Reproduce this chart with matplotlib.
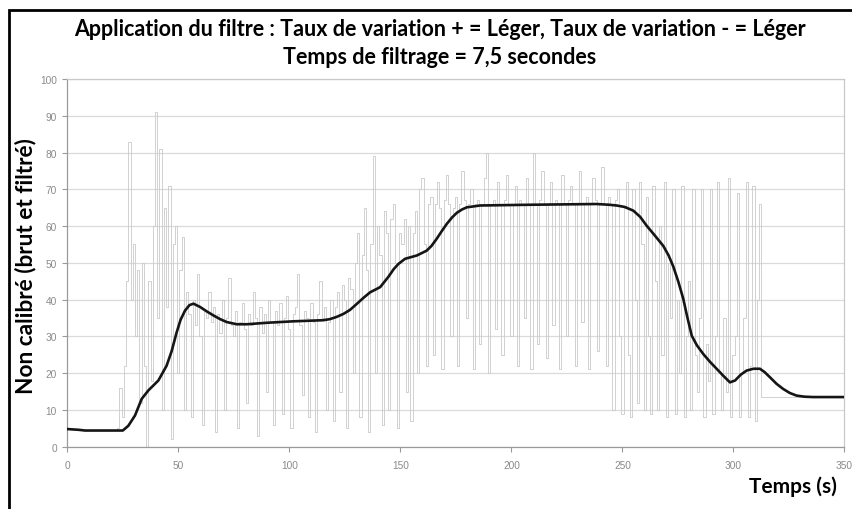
import numpy as np
import matplotlib
matplotlib.use("Agg")
import matplotlib.pyplot as plt
from matplotlib.patches import Rectangle

# ---------------- data ----------------
title_line1 = "Application du filtre : Taux de variation + = Léger, Taux de variation - = Léger"
title_line2 = "Temps de filtrage = 7,5 secondes"
y_label = "Non calibré (brut et filtré)"
x_label = "Temps (s)"

x_ticks = [0, 50, 100, 150, 200, 250, 300, 350]
y_ticks = [0, 10, 20, 30, 40, 50, 60, 70, 80, 90, 100]

# raw signal, one sample per second starting at t = 0
raw_0_24 = [4.8, 4.8, 4.8, 4.8, 4.8, 4.6, 4.5, 4.5, 4.5, 4.5,
            4.5, 4.5, 4.5, 4.5, 4.5, 4.5, 4.5, 4.5, 4.5, 4.5,
            4.5, 4.5, 4.5, 5.0, 16]
raw_25_54 = [8, 22, 45, 83, 40, 55, 30, 48, 12, 50,
             22, 0, 45, 18, 60, 91, 35, 81, 10, 65,
             38, 71, 2, 55, 60, 20, 48, 57, 10, 42]
raw_55_124 = [36, 8, 40, 33, 47, 30, 6, 37, 35, 42,
              34, 38, 4, 36, 31, 40, 10, 35, 46, 33,
              30, 37, 5, 34, 39, 32, 12, 36, 33, 42,
              35, 3, 38, 31, 36, 15, 40, 34, 6, 37,
              33, 39, 9, 35, 41, 32, 5, 36, 38, 47,
              33, 14, 37, 35, 8, 39, 34, 4, 36, 45,
              35, 38, 10, 34, 40, 7, 38, 42, 15, 44]
raw_125_164 = [40, 5, 46, 43, 20, 50, 58, 8, 52, 65,
               48, 4, 55, 79, 20, 60, 52, 6, 64, 58,
               10, 62, 66, 50, 5, 58, 55, 62, 15, 60,
               7, 58, 64, 20, 70, 73, 55, 22, 66, 68]
raw_165_244 = [25, 66, 72, 65, 21, 67, 74, 66, 30, 65,
               68, 22, 66, 75, 67, 35, 66, 70, 21, 66,
               67, 28, 66, 73, 80, 20, 66, 67, 32, 72,
               66, 25, 67, 74, 66, 30, 66, 71, 22, 67,
               66, 35, 73, 66, 21, 80, 66, 28, 67, 75,
               66, 24, 66, 72, 33, 67, 66, 21, 74, 66,
               30, 67, 71, 66, 22, 66, 75, 34, 66, 68,
               21, 66, 73, 67, 26, 66, 76, 66, 22, 68]
raw_245_312 = [66, 10, 67, 70, 30, 9, 65, 72, 25, 8,
               70, 40, 12, 72, 55, 10, 68, 30, 9, 71,
               45, 10, 60, 25, 72, 8, 50, 35, 70, 9,
               40, 20, 71, 8, 30, 45, 10, 70, 25, 15,
               35, 70, 8, 28, 18, 70, 9, 30, 72, 20,
               10, 35, 15, 73, 8, 25, 30, 69, 8, 20,
               35, 72, 8, 22, 71, 7, 40, 66]
raw_313_350 = [13.5, 13.5, 13.5, 13.5, 13.5, 13.5, 13.5, 13.5, 13.5, 13.5,
               13.5, 13.5, 13.5, 13.5, 13.5, 13.5, 13.5, 13.5, 13.5, 13.5,
               13.5, 13.5, 13.5, 13.5, 13.5, 13.5, 13.5, 13.5, 13.5, 13.5,
               13.5, 13.5, 13.5, 13.5, 13.5, 13.5, 13.5, 13.5]
raw_values = (raw_0_24 + raw_25_54 + raw_55_124 + raw_125_164
              + raw_165_244 + raw_245_312 + raw_313_350)
raw_time = np.arange(len(raw_values))

# filtered signal
filt_time = [0, 5, 8, 25, 27.5, 30.5, 33.5, 36.5, 41, 44.7, 47, 49.2, 51, 53, 55,
             56.8, 59.8, 62.8, 65.8, 68.8, 71.8, 76.3, 80.8, 89.8, 101.8, 115.3,
             118.3, 121.3, 124.3, 127.3, 130.3, 133.4, 136.4, 140.9, 144.6, 147,
             149.1, 152.1, 157.4, 161.8, 164, 166.3, 168.6, 170.9, 173.2, 175.4,
             177.7, 179.9, 185.9, 208.4, 238.4, 244, 247.4, 251, 254.9, 258,
             260.9, 264.5, 268.4, 270.8, 272.9, 275.2, 277.4, 279.3, 281.2, 283.5,
             286.4, 289.4, 292.4, 295.4, 298.4, 300.7, 303.3, 305.9, 309, 311.9,
             314, 316.4, 319.4, 322.4, 325.4, 328.4, 332, 335.9, 350]
filt_values = [4.8, 4.6, 4.4, 4.4, 5.7, 8.5, 13, 15.3, 18, 22, 26, 31, 34.5, 37, 38.5,
               38.9, 38, 36.8, 35.7, 34.7, 33.9, 33.3, 33.3, 33.7, 34.1, 34.4,
               34.7, 35.3, 36.1, 37.2, 38.8, 40.5, 42.0, 43.4, 46.2, 48.3,
               49.7, 51.1, 52.0, 53.3, 54.6, 56.5, 58.6, 60.6, 62.3, 63.6,
               64.5, 65.1, 65.6, 65.8, 66.0, 65.8, 65.6, 65.2, 64.2, 62.5,
               60.1, 57.5, 54.6, 52, 49.0, 44.8, 40.2, 35, 30.2, 27.6,
               25.2, 23.1, 21.2, 19.3, 17.5, 18.0, 19.6, 20.7, 21.2, 21.2,
               20.3, 18.9, 17.1, 15.7, 14.6, 13.9, 13.6, 13.5, 13.5]

# ---------------- figure ----------------
W, H = 853, 510
fig = plt.figure(figsize=(W / 100, H / 100), dpi=100)
fig.patch.set_facecolor("white")

ax_l, ax_r = 67.3, 844.5
ax_t, ax_b = 80.0, 447.7
ax = fig.add_axes([ax_l / W, 1 - ax_b / H, (ax_r - ax_l) / W, (ax_b - ax_t) / H])

ax.plot(raw_time, raw_values, color="#cacaca", lw=0.6, zorder=2,
        drawstyle="steps-mid")
ax.plot(filt_time, filt_values, color="#151515", lw=1.9, zorder=3,
        solid_joinstyle="round")

ax.set_xlim(0, 350)
ax.set_ylim(0, 100)
ax.set_xticks(x_ticks)
ax.set_yticks(y_ticks)
ax.grid(axis="y", color="#dadada", lw=0.9, zorder=0)
ax.set_axisbelow(True)

for s in ["top", "right"]:
    ax.spines[s].set_color("#c8c8c8")
    ax.spines[s].set_linewidth(0.9)
for s in ["left", "bottom"]:
    ax.spines[s].set_color("#9a9a9a")
    ax.spines[s].set_linewidth(0.9)

ax.tick_params(axis="both", direction="out", length=3.5, width=0.8,
               color="#9a9a9a", labelcolor="#8a8a8a", labelsize=7.3)
ax.tick_params(axis="y", pad=4)
ax.tick_params(axis="x", pad=6)
for lab in ax.get_xticklabels() + ax.get_yticklabels():
    lab.set_family("Liberation Sans")

tfont = dict(family="Lato", weight="bold", color="black")
fig.text(440 / W, 1 - 30 / H, title_line1, ha="center", va="center", fontsize=15.5, **tfont)
fig.text(440 / W, 1 - 57 / H, title_line2, ha="center", va="center", fontsize=15.5, **tfont)
fig.text(26 / W, 1 - 266 / H, y_label, ha="center", va="center", rotation=90,
         fontsize=16.3, **tfont)
fig.text(837 / W, 1 - 487 / H, x_label, ha="right", va="center", fontsize=15, **tfont)

# outer black frame (cropped at right/bottom like the reference)
fig.patches.append(Rectangle((9 / W, -0.02), 1.05, 1 - 11 / H + 0.02,
                             transform=fig.transFigure, fill=False,
                             edgecolor="black", lw=2.0, clip_on=False))

fig.savefig("out.png", dpi=100, facecolor="white")
